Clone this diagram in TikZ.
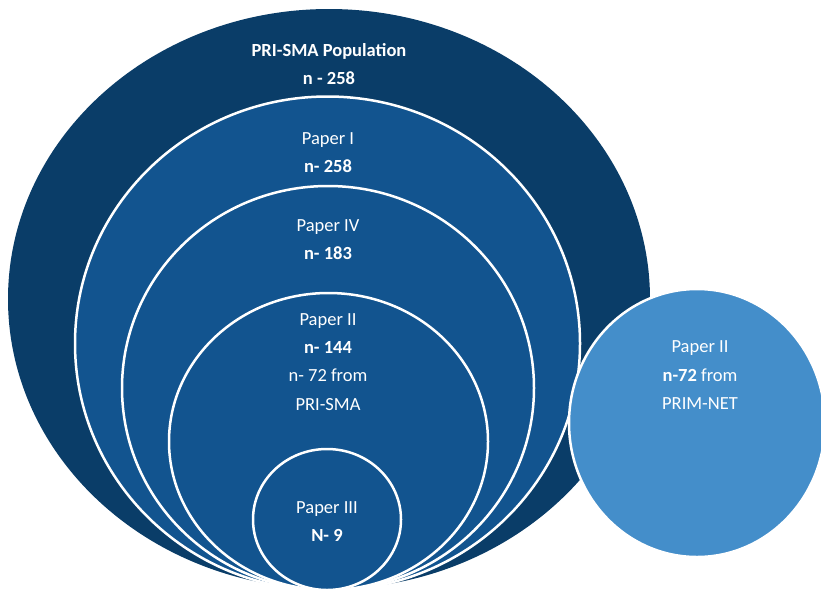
\documentclass[tikz,border=0pt]{standalone}
\usepackage{fontspec}
\setmainfont{Carlito}
\usetikzlibrary{shapes.geometric}
\definecolor{navy}{RGB}{10,61,104}
\definecolor{midblue}{RGB}{18,84,143}
\definecolor{lightblue}{RGB}{68,142,202}
\tikzset{
  ring/.style={ellipse, draw=white, line width=2.5pt, fill=midblue, inner sep=0pt},
  lbl/.style={text=white, font=\fontsize{18.5}{22}\selectfont, inner sep=0pt, anchor=base},
}
\begin{document}
\begin{tikzpicture}[x=1pt,y=-1pt]
\useasboundingbox (0,0) rectangle (821,590);
\clip (0,0) rectangle (821,590);
\node[ellipse, fill=navy, inner sep=0pt, minimum width=642pt, minimum height=580pt] (pop) at (329,299) {};
\node[ring, minimum width=505pt, minimum height=494pt] (p1) at (327.5,343.5) {};
\node[ring, minimum width=412pt, minimum height=404pt] (p4) at (328,388) {};
\node[ring, minimum width=319pt, minimum height=297pt] (p2) at (328.5,441.5) {};
\node[ring, minimum width=148pt, minimum height=141pt] (p3) at (327,519.5) {};
\node[ellipse, draw=white, line width=2.5pt, fill=lightblue, inner sep=0pt, minimum width=256pt, minimum height=268pt] (pn) at (697,423) {};
% texts
\node[lbl] (t1) at (329,56) {\bfseries PRI-SMA Population};
\node[lbl] (t2) at (329,84) {\bfseries n - 258};
\node[lbl] (t3) at (328,144) {Paper I};
\node[lbl] (t4) at (328,172) {\bfseries n- 258};
\node[lbl] (t5) at (328,231) {Paper IV};
\node[lbl] (t6) at (328,259) {\bfseries n- 183};
\node[lbl] (t7) at (328,325) {Paper II};
\node[lbl] (t8) at (328,353) {\bfseries n- 144};
\node[lbl] (t9) at (328,381) {n- 72 from};
\node[lbl] (t10) at (328,410) {PRI-SMA};
\node[lbl] (t11) at (327,513) {Paper III};
\node[lbl] (t12) at (327,541) {\bfseries N- 9};
\node[lbl] (t13) at (700,352) {Paper II};
\node[lbl] (t14) at (700,381) {\textbf{n-72} from};
\node[lbl] (t15) at (700,409) {PRIM-NET};
\end{tikzpicture}
\end{document}
